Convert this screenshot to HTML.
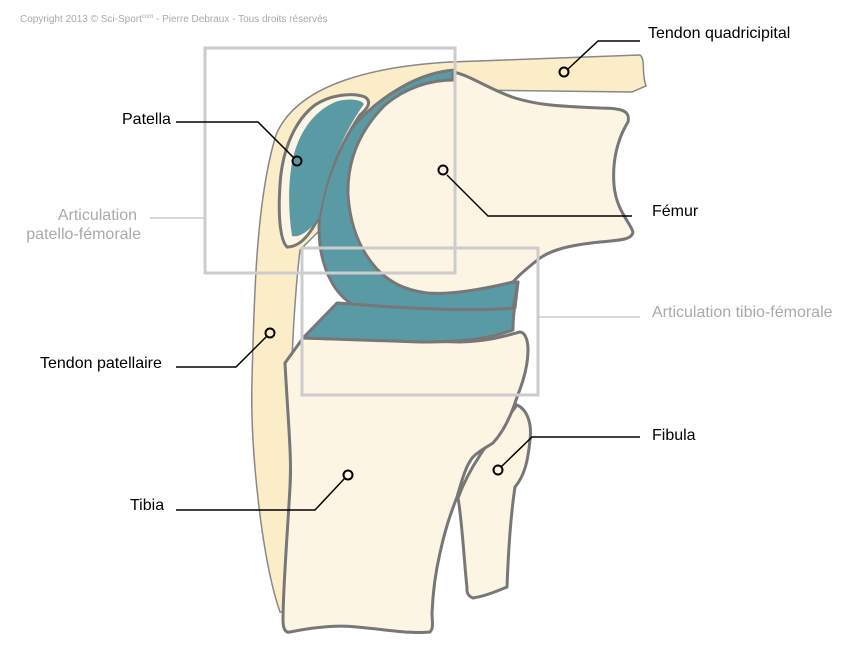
<!DOCTYPE html>
<html><head><meta charset="utf-8"><style>
html,body{margin:0;padding:0;background:#fff}
svg{display:block}
text{font-family:"Liberation Sans",sans-serif}
</style></head><body>
<svg width="850" height="657" viewBox="0 0 850 657" xmlns="http://www.w3.org/2000/svg">
<text x="20" y="22" font-size="10" fill="#aaa">Copyright 2013 © Sci-Sport<tspan font-size="6" dy="-4">com</tspan><tspan dy="4"> - Pierre Debraux - Tous droits réservés</tspan></text>
<path d="M280,612 C262,560 250,450 252,380 C254,300 256,200 276,135 C298,82 380,66 450,62 L640,55 C646,60 641,72 646,86 L632,92 L470,90 L400,120 L320,230 L300,250 C294,300 290,380 290,450 C289,520 287,580 285,612 Z" fill="#fbedc8" stroke="#888" stroke-width="1.5"/>
<path d="M458,498 C470,465 490,440 517,405 C528,410 532,425 530,440 C528,460 525,475 515,487 C510,520 508,560 507,587 C495,592 485,596 473,598 C466,595 467,590 467,588 C464,560 462,520 458,498 Z" fill="#fcf5e3" stroke="#777" stroke-width="3"/>
<path d="M303,338 L285,363 C288,420 292,460 290,487 C287,540 283,590 283,620 C283,630 286,633 290,632 C320,626 340,625 357,627 C390,630 410,634 430,632 C434,628 432,620 432,613 C433,590 436,570 440,553 C445,530 450,515 457,497 C462,480 466,465 473,457 C480,450 487,447 493,443 C505,430 512,413 517,397 C524,380 528,365 528,350 C528,338 524,332 520,332 C505,336 490,341 460,342 L303,338 Z" fill="#fcf5e3" stroke="#777" stroke-width="3"/>
<path d="M337,303 C400,307 470,312 515,308 L518,282 C515,300 513,315 513,330 C490,338 470,342 420,342 L303,338 Z" fill="#5a9aa5" stroke="#777" stroke-width="3" stroke-linejoin="round"/>
<path d="M455,70 C420,72 380,95 350,130 C325,165 316,205 320,245 C324,275 337,295 352,304 C400,308 470,312 513,308 C515,300 516,290 518,282 L470,285 Z" fill="#5a9aa5" stroke="#777" stroke-width="3" stroke-linejoin="round"/>
<path d="M453,72 C470,75 490,90 515,98 C535,104 550,106 600,108 C625,108 630,112 628,122 C618,138 612,160 614,185 C616,210 630,222 633,232 C632,240 620,240 600,242 C570,245 548,250 535,262 C525,270 518,276 513,282 C480,290 450,295 427,293 C405,290 390,283 376,268 C360,250 350,225 348,195 C347,160 360,130 385,105 C405,88 430,80 453,80 Z" fill="#fcf5e3" stroke="#777" stroke-width="3" stroke-linejoin="round"/>
<path d="M287,247 C280,240 278,215 280,185 C282,150 295,120 315,105 C330,95 352,92 365,97 C372,102 368,108 360,115 C340,145 325,180 320,215 C310,235 300,247 287,247 Z" fill="#fcf5e3" stroke="#777" stroke-width="3"/>
<path d="M292,236 C288,210 288,180 293,158 C300,128 318,108 338,101 C352,98 361,100 364,104 C342,135 326,175 319,217 C311,230 300,238 292,236 Z" fill="#5a9aa5"/>
<rect x="205" y="48" width="250" height="225" fill="none" stroke="#ccc" stroke-width="3"/>
<rect x="302" y="248" width="236" height="147" fill="none" stroke="#ccc" stroke-width="3"/>
<line x1="150" y1="218" x2="205" y2="218" stroke="#ccc" stroke-width="1.5"/>
<line x1="538" y1="317" x2="640" y2="317" stroke="#ccc" stroke-width="1.5"/>
<text x="137" y="220" font-size="16" fill="#aaa" text-anchor="end">Articulation</text>
<text x="141" y="239" font-size="16" fill="#aaa" text-anchor="end">patello-fémorale</text>
<text x="652" y="317" font-size="16" fill="#aaa">Articulation tibio-fémorale</text>
<g stroke="#000" stroke-width="1.5" fill="none">
<polyline points="176,122 258,122 294,158"/>
<polyline points="640,41 598,41 568,69"/>
<polyline points="447,175 488,216 632,216"/>
<polyline points="176,367 236,367 267,336"/>
<polyline points="176,510 315,510 345,478"/>
<polyline points="640,437 532,437 501,467"/>
</g>
<g stroke="#000" stroke-width="2" fill="#fcf5e3">
<circle cx="297" cy="161" r="4.5" fill="#5a9aa5"/>
<circle cx="564" cy="72" r="4.5" fill="#fbedc8"/>
<circle cx="443" cy="170" r="4.5"/>
<circle cx="270" cy="333" r="4.5" fill="#fbedc8"/>
<circle cx="348" cy="475" r="4.5"/>
<circle cx="498" cy="470" r="4.5"/>
</g>
<g font-size="16" fill="#000">
<text x="122" y="124">Patella</text>
<text x="648" y="38">Tendon quadricipital</text>
<text x="652" y="216">Fémur</text>
<text x="40" y="368">Tendon patellaire</text>
<text x="130" y="510">Tibia</text>
<text x="652" y="440">Fibula</text>
</g>
</svg>
</body></html>
